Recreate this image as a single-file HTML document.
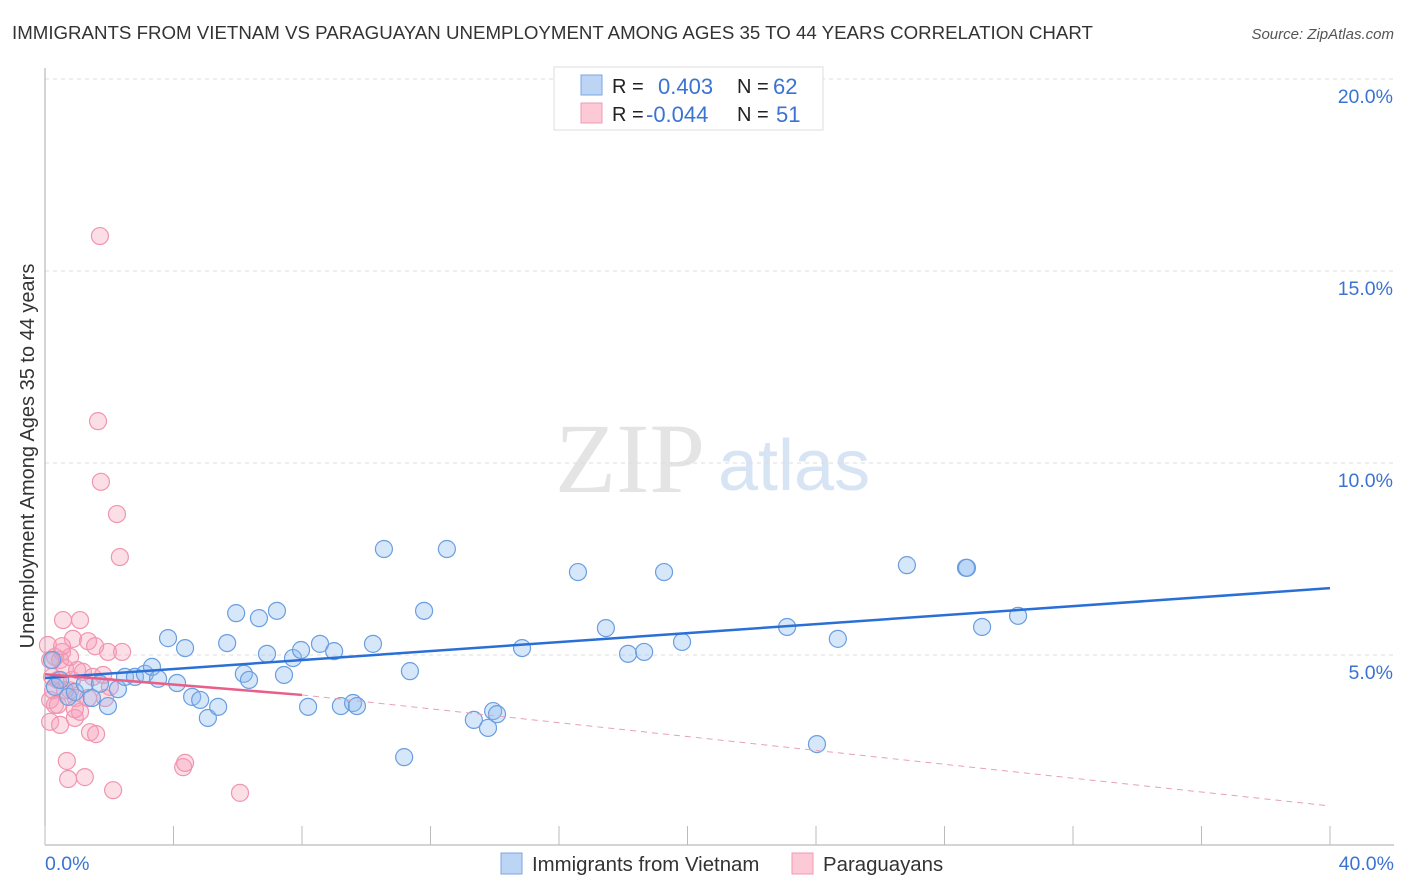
<!DOCTYPE html>
<html><head><meta charset="utf-8">
<style>
body{margin:0;background:#fff;font-family:"Liberation Sans",sans-serif;}
svg{display:block}
</style></head>
<body>
<svg id="chart" width="1406" height="892">
<text x="12" y="39" font-size="18.7" fill="#333">IMMIGRANTS FROM VIETNAM VS PARAGUAYAN UNEMPLOYMENT AMONG AGES 35 TO 44 YEARS CORRELATION CHART</text>
<text x="1394" y="39" font-size="15" fill="#555" font-style="italic" text-anchor="end">Source: ZipAtlas.com</text>
<text x="555" y="492" font-size="100" fill="#e4e4e4" font-family="Liberation Serif,serif">ZIP</text>
<text x="718" y="490" font-size="72" fill="#d6e4f4">atlas</text>
<text transform="translate(34,456) rotate(-90)" font-size="20" fill="#333" text-anchor="middle">Unemployment Among Ages 35 to 44 years</text>
<g id="grid"></g><g id="pts"></g><g id="lines"></g>
<g>
<rect x="554" y="67" width="269" height="63" fill="#fff" stroke="#ddd"/>
<rect x="581" y="75" width="21" height="20" fill="#bcd5f5" stroke="#7aa6e0"/>
<rect x="581" y="103" width="21" height="20" fill="#fcc9d7" stroke="#f09ab2"/>
<text x="612" y="93" font-size="20" fill="#222">R =</text>
<text x="658" y="94" font-size="22" fill="#3b73d1">0.403</text>
<text x="737" y="93" font-size="20" fill="#222">N =</text>
<text x="773" y="94" font-size="22" fill="#3b73d1">62</text>
<text x="612" y="121" font-size="20" fill="#222">R =</text>
<text x="646" y="122" font-size="22" fill="#3b73d1">-0.044</text>
<text x="737" y="121" font-size="20" fill="#222">N =</text>
<text x="776" y="122" font-size="22" fill="#3b73d1">51</text>
</g>
<g>
<rect x="501" y="853" width="21" height="21" fill="#bcd5f5" stroke="#7aa6e0"/>
<text x="532" y="871" font-size="20.4" fill="#333">Immigrants from Vietnam</text>
<rect x="792" y="853" width="21" height="21" fill="#fcc9d7" stroke="#f09ab2"/>
<text x="823" y="871" font-size="20.4" fill="#333">Paraguayans</text>
</g>
</svg>
<script>
const yTicks=[5,10,15,20];
const blueX=[0.22,0.31,0.47,0.72,0.93,1.24,1.46,1.71,1.96,2.27,2.49,2.80,3.11,3.33,3.52,3.83,4.11,4.36,4.58,4.83,5.07,5.39,5.67,5.95,6.19,6.35,6.66,6.91,7.22,7.44,7.72,7.97,8.19,8.56,9.00,9.21,9.59,9.71,10.21,10.55,11.18,11.36,11.80,12.51,13.35,13.79,13.95,14.07,14.85,16.59,17.46,18.15,18.65,19.27,19.83,23.10,24.03,24.68,26.83,28.67,28.70,29.17,30.29];
const blueY=[4.87,4.17,4.35,3.91,4.04,4.25,3.88,4.25,3.67,4.11,4.43,4.43,4.51,4.69,4.38,5.44,4.27,5.18,3.91,3.83,3.36,3.65,5.31,6.09,4.51,4.35,5.96,5.03,6.15,4.48,4.92,5.13,3.65,5.29,5.10,3.67,3.75,3.67,5.29,7.76,2.34,4.58,6.15,7.76,3.31,3.10,3.54,3.46,5.18,7.16,5.70,5.03,5.08,7.16,5.34,5.73,2.68,5.42,7.34,7.27,7.27,5.73,6.02];
const pinkX=[0.09,0.16,0.16,0.25,0.31,0.40,0.47,0.53,0.56,0.62,0.68,0.72,0.78,0.84,0.87,0.93,0.96,1.00,1.09,1.18,1.24,1.34,1.40,1.49,1.59,1.71,1.65,1.74,1.87,1.96,2.02,2.12,2.24,2.33,2.40,4.30,4.36,6.07,1.81,0.62,0.31,0.40,1.09,0.78,0.53,0.16,0.22,0.93,0.47,1.34,1.56];
const pinkY=[5.26,3.83,3.26,4.08,3.70,4.35,4.87,5.08,5.91,4.66,2.24,1.77,4.08,4.35,5.42,3.36,3.88,4.61,5.91,4.56,1.82,5.36,2.99,4.43,2.94,15.91,11.09,9.51,3.88,5.08,4.17,1.48,8.67,7.55,5.08,2.08,2.19,1.41,4.48,4.08,4.95,3.70,3.52,4.95,5.23,4.87,4.43,3.59,3.18,3.88,5.23];
const blueTrend=[[0,4.4],[40,6.74]];
const pinkTrend=[[0,4.5],[8,3.96],[40,1.07]];
const NS='http://www.w3.org/2000/svg';
const xs=v=>45+v*32.125, ys=v=>847-v*38.4;
function mk(t,a,p){const e=document.createElementNS(NS,t);for(const k in a)e.setAttribute(k,a[k]);p.appendChild(e);return e;}
const grid=document.getElementById('grid'),pts=document.getElementById('pts'),lines=document.getElementById('lines');
yTicks.forEach(t=>{
 const l=mk('line',{x1:45,x2:1394,y1:ys(t),y2:ys(t),stroke:'#ddd','stroke-dasharray':'4,4'},grid);
 
 
 const tx=mk('text',{x:1393,y:ys(t)+24,'font-size':19.5,fill:'#3b73d1','text-anchor':'end'},grid);
 tx.textContent=t.toFixed(1)+'%';
 
 
});
const ax=mk('line',{x1:45,x2:1394,y1:845,y2:845,stroke:'#aaa'},grid);


const ay=mk('line',{x1:45,x2:45,y1:68,y2:845,stroke:'#aaa'},grid);


for(let i=0;i<=10;i++){const t=mk('line',{x1:xs(i*4),x2:xs(i*4),y1:826,y2:845,stroke:'#bbb'},grid);
 
 }
[[0,'0.0%','start',45],[40,'40.0%','end',1394]].forEach(d=>{const t=mk('text',{x:d[3],y:870,'font-size':19.5,fill:'#3b73d1','text-anchor':d[2]},grid);t.textContent=d[1];
 
 });
pinkX.forEach((v,i)=>{const c=mk('circle',{cx:xs(v),cy:ys(pinkY[i]),r:8.5,fill:'rgba(246,160,185,0.35)',stroke:'#f095b0','stroke-width':1.2},pts);
 
 });
blueX.forEach((v,i)=>{const c=mk('circle',{cx:xs(v),cy:ys(blueY[i]),r:8.5,fill:'rgba(140,185,240,0.35)',stroke:'#6a9ee0','stroke-width':1.2},pts);
 
 });
const bl=mk('line',{x1:xs(blueTrend[0][0]),y1:ys(blueTrend[0][1]),x2:xs(blueTrend[1][0]),y2:ys(blueTrend[1][1]),stroke:'#2a6fd6','stroke-width':2.5},lines);


const pl=mk('line',{x1:xs(pinkTrend[0][0]),y1:ys(pinkTrend[0][1]),x2:xs(pinkTrend[1][0]),y2:ys(pinkTrend[1][1]),stroke:'#e8608a','stroke-width':2.5},lines);


const pd=mk('line',{x1:xs(pinkTrend[1][0]),y1:ys(pinkTrend[1][1]),x2:xs(pinkTrend[2][0]),y2:ys(pinkTrend[2][1]),stroke:'#e8a0b5','stroke-width':1,'stroke-dasharray':'6,5'},lines);


</script>
</body></html>
